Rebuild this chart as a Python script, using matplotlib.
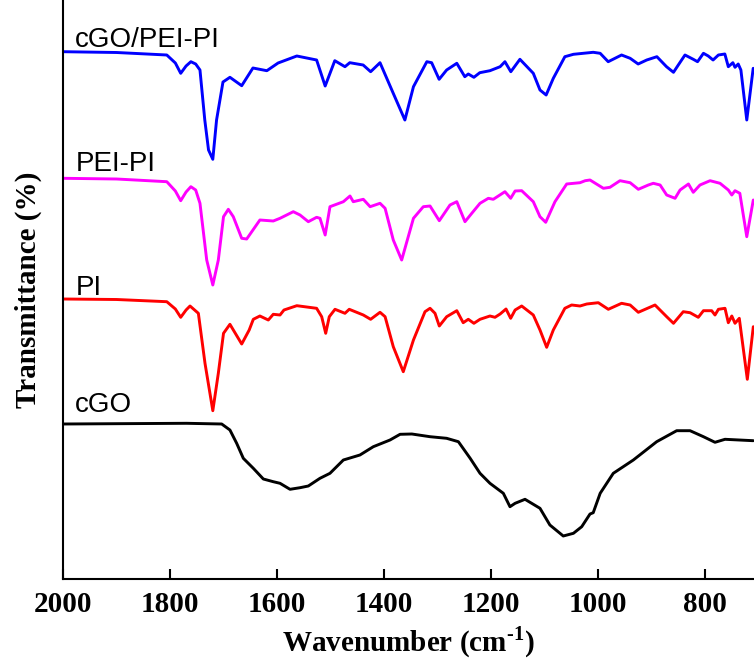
import matplotlib
matplotlib.use("Agg")
import matplotlib.pyplot as plt

# ---------------- data (wavenumber cm-1, transmittance a.u. with vertical offsets) -------------
wn_cgo_pei_pi = [2000, 1900, 1806, 1790, 1780, 1770, 1761, 1752, 1744, 1735, 1728, 1720, 1713, 1701, 1688, 1666, 1645, 1619,
                 1598, 1563, 1526, 1510, 1492, 1473, 1464, 1439, 1425, 1407.5, 1383, 1361, 1345,
                 1320, 1311, 1297, 1283, 1264, 1249, 1242.5, 1232, 1221, 1202, 1183, 1174, 1163,
                 1146, 1121, 1108.5, 1097, 1083.6, 1062, 1046, 1009, 996, 981, 956, 940, 925, 909,
                 890, 872, 859, 850, 837.5, 822, 814, 803, 794, 785, 775, 763, 756.5, 748, 744,
                 738, 733, 722, 710]
t_cgo_pei_pi = [614.3, 613.5, 611, 603, 592.7, 600, 604.3, 602, 596, 546, 516, 506.7, 546, 584, 588.7, 580.3, 598, 595.3,
                603, 610, 606, 580, 605.3, 599.3, 603.3, 601, 594.3, 603.3, 573, 546, 579.3,
                604.3, 603.3, 586.7, 596, 602.7, 589.3, 592, 588.7, 593.3, 595.3, 599.3, 604.3, 594.3,
                606.7, 592.7, 576, 571, 587.7, 609.3, 611.7, 613.7, 612.7, 604.3, 611, 607.7, 602, 606,
                609.3, 599.3, 593.7, 601, 611, 606.7, 604.3, 612.7, 610, 606, 611, 612, 599.3, 603.3, 598.7,
                602, 596, 546, 597.7]

wn_pei_pi = [2000, 1900, 1806, 1790, 1780, 1770, 1761, 1752, 1744, 1731.4, 1720, 1709.7, 1700, 1691, 1681.7, 1666, 1656.7,
             1632, 1607, 1594.4, 1569.6, 1557, 1541.5, 1526, 1519.7, 1510, 1501, 1476, 1463.6,
             1457.5, 1438.7, 1426, 1407.5, 1398, 1382.7, 1367, 1345, 1326.6, 1314, 1296.7,
             1276.7, 1264, 1248.7, 1236, 1220.6, 1205, 1195.8, 1174, 1163.3, 1155, 1142.7, 1121,
             1108.5, 1097.8, 1080.5, 1058.6, 1033.7, 1024, 1015, 990, 977.7, 959, 940, 924.7, 906,
             896.7, 884, 871.7, 856, 846.7, 831, 822, 809.5, 790.6, 772, 756.5, 750, 744, 735,
             722, 709.8]
t_pei_pi = [487.7, 487, 484.3, 475, 465.3, 474, 479.3, 476, 462.7, 406, 381, 406, 449.3, 456.7, 449.3, 427.7, 427,
            446, 445, 447.7, 454.3, 451, 444.3, 448.7, 447.7, 431, 459.3, 464.3, 470,
            464.3, 466.7, 459.3, 462.7, 457.7, 426, 406, 447.7, 459.3, 460, 445.3,
            461, 464.3, 444.3, 452.7, 462.7, 467.7, 466.7, 474.3, 467.7, 475, 475.3, 464.3,
            449.3, 443.7, 464.3, 482, 483.3, 485.3, 486, 477.7, 478.7, 485.3, 483.3, 476.7, 481,
            482.7, 481, 471, 467.7, 476, 482, 473.7, 481, 485.3, 482.7, 476, 471, 475.3, 472.7,
            429.3, 466]

wn_pi = [2000, 1900, 1806, 1790, 1780, 1770, 1762.6, 1747, 1734.6, 1720, 1709.7, 1700, 1688, 1666, 1652, 1644.3,
         1632, 1616.3, 1607, 1594.4, 1587, 1563, 1526, 1516.5, 1509, 1502.3, 1491.6, 1473, 1465,
         1438.7, 1425, 1407.5, 1398, 1382.7, 1364, 1345, 1323.4, 1314, 1304.7, 1296.7, 1282.9,
         1264, 1252, 1242.5, 1232, 1220.6, 1202, 1192.6, 1183, 1172, 1163.3, 1155, 1142.7, 1121,
         1108.5, 1096, 1083.6, 1062, 1049.3, 1033.7, 1021, 999.5, 980.8, 956, 940, 924.7, 893.5,
         871.7, 859, 840.7, 828, 812.6, 803, 787.6, 781.4, 775, 762.7, 756.5, 750, 744, 736,
         721, 709.8]
t_pi = [367, 366.5, 364.3, 357, 348.7, 356, 360, 352.7, 302.7, 255.3, 292.7, 332.7, 341.7, 322, 336, 346.7,
        350, 346, 351.7, 351, 356, 360.3, 357.7, 349.3, 332.7, 349.3, 356.7, 352.7, 356.7,
        351, 346.7, 353.7, 349.3, 319.3, 294.3, 326, 354.3, 357.7, 352.7, 340, 349.3,
        355.3, 343.3, 346.7, 342.7, 346.7, 350, 348.7, 352, 357, 347.7, 356, 360, 351,
        336, 318.7, 336, 357.7, 361, 360, 362, 363.3, 356.7, 362.7, 361, 353.7, 361,
        349.3, 342.7, 354.3, 353.3, 348.7, 355.3, 355.3, 351, 356.7, 357.7, 343.3, 350, 342.7, 347.7,
        286.7, 339.3]

wn_cgo = [2000, 1769, 1703.4, 1688, 1675.4, 1663, 1644.3, 1625.6, 1607, 1594.4, 1575.7, 1557,
          1541.5, 1519.7, 1501, 1476, 1445, 1420, 1388.8, 1370, 1348, 1314, 1283, 1261, 1239,
          1220.6, 1202, 1177, 1164.6, 1155, 1136.5, 1108.5, 1090, 1065, 1046, 1030.5, 1015, 1009,
          996, 971.5, 934, 890.4, 853, 828, 803, 781.4, 762.7, 709.8]
t_cgo = [242, 242.7, 242, 236, 222.7, 207.7, 197.7, 187, 184.3, 182.7, 176.7, 178.3,
         180, 187.7, 192.7, 206, 211, 219.3, 226, 231.7, 232, 229.3, 227.7, 224.3, 207.7,
         192.7, 182.7, 172.7, 159.3, 162.7, 166.7, 157.7, 141, 130, 132.7, 139.3, 152, 153.3,
         172.7, 192.7, 206, 224.3, 235.3, 235.3, 229.3, 223.7, 226.7, 225.3]

labels = ["cGO/PEI-PI", "PEI-PI", "PI", "cGO"]
label_y = [619, 495, 371, 254]
colors = ["#0000FF", "#FF00FF", "#FF0000", "#000000"]
xticks = [2000, 1800, 1600, 1400, 1200, 1000, 800]

# ---------------- plot ----------------
plt.rcParams['mathtext.fontset'] = 'custom'
plt.rcParams['mathtext.rm'] = 'Liberation Serif:bold'
plt.rcParams['mathtext.bf'] = 'Liberation Serif:bold'

fig = plt.figure(figsize=(7.54, 6.66), dpi=100)
ax = fig.add_axes([63 / 754, 1 - 579 / 666, 1 - 63 / 754, 579 / 666])

series = [(wn_cgo_pei_pi, t_cgo_pei_pi), (wn_pei_pi, t_pei_pi), (wn_pi, t_pi), (wn_cgo, t_cgo)]
for (x, y), c in zip(series, colors):
    ax.plot(x, y, color=c, lw=2.1, solid_joinstyle='round', solid_capstyle='round')

for lab, ly in zip(labels, label_y):
    ax.text(1977, ly, lab, fontsize=20, family='Liberation Sans', va='baseline', ha='left')

ax.set_xlim(2000, 708.5)
ax.set_ylim(87, 666)
ax.set_xticks(xticks)
ax.set_xticklabels([str(t) for t in xticks], fontsize=21, fontweight='bold', family='Liberation Serif')
ax.set_yticks([])
ax.tick_params(axis='x', direction='in', length=7, width=1.5, pad=9)
for s in ['top', 'right']:
    ax.spines[s].set_visible(False)
for s in ['left', 'bottom']:
    ax.spines[s].set_linewidth(1.5)

ax.set_xlabel(r'Wavenumber (cm$^{\text{-1}}$)', fontsize=21, fontweight='bold',
              family='Liberation Serif', labelpad=4)
ax.set_ylabel('Transmittance (%)', fontsize=21, fontweight='bold', family='Liberation Serif',
              labelpad=15)

fig.savefig('out.png', dpi=100)
